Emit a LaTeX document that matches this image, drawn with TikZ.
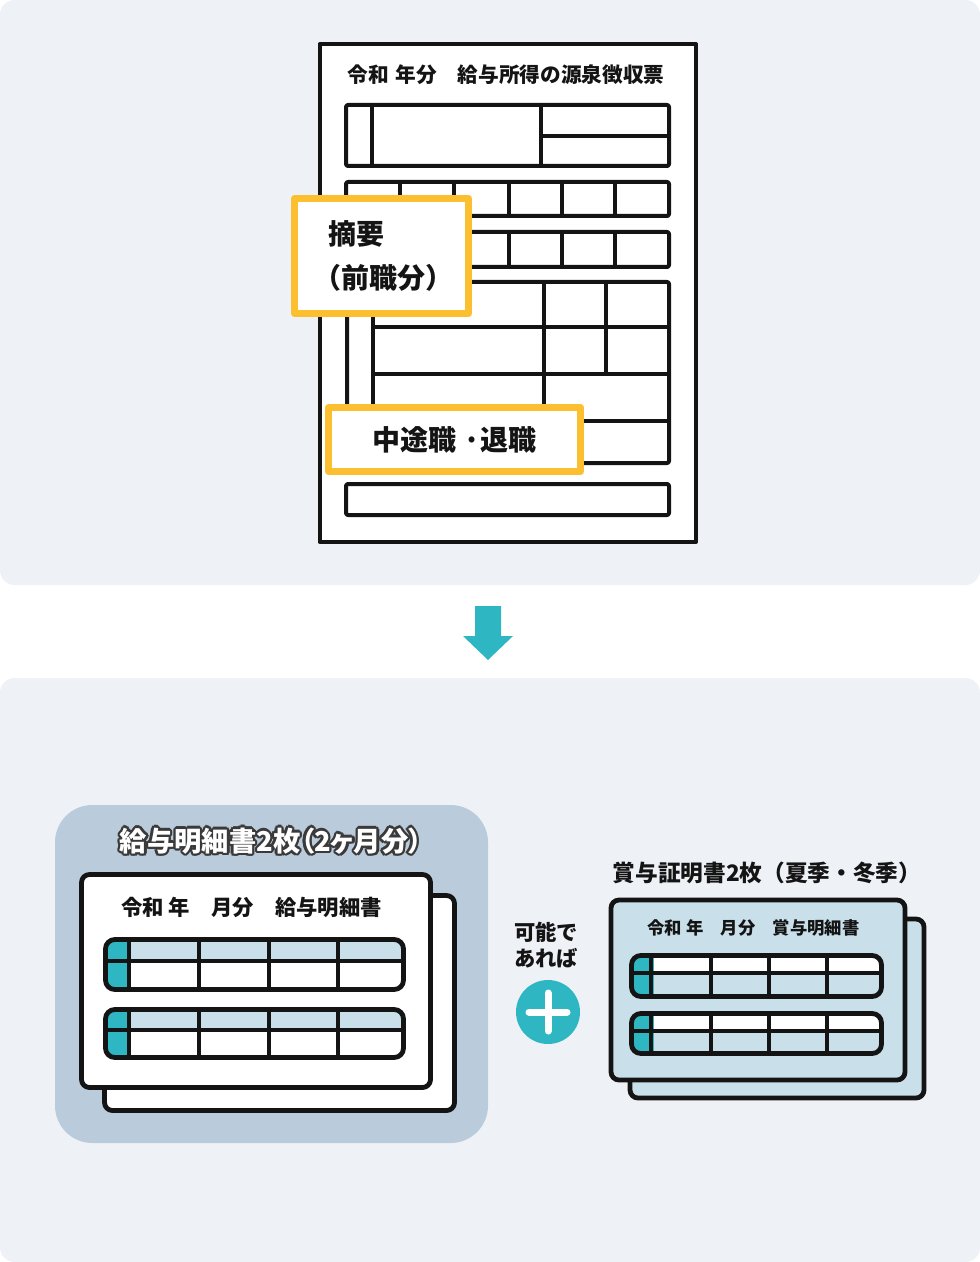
\documentclass[tikz,border=0pt]{standalone}
\usepackage{fontspec}
\newfontfamily\jp{Noto Sans CJK JP}[BoldFont={Noto Sans CJK JP Black}]
\newfontfamily\jpp{Noto Sans CJK JP}[BoldFont={Noto Sans CJK JP Black}, RawFeature=+palt]
\usetikzlibrary{arrows.meta,positioning,calc}
\definecolor{panelbg}{HTML}{EEF2F7}
\definecolor{tealc}{HTML}{2EB7C3}
\definecolor{paleblue}{HTML}{C9E0EA}
\definecolor{greyblue}{HTML}{BACBDB}
\definecolor{gold}{HTML}{FBBF2F}
\definecolor{ink}{HTML}{141414}
\definecolor{rim}{HTML}{3A3A3A}

\begin{document}
\begin{tikzpicture}[x=0.75pt, y=-0.75pt, line join=round,
    txt/.style={inner sep=0, text=ink, font=\jp\bfseries\fontsize{#1}{#1}\selectfont},
    form/.style={draw=ink, line width=3pt},
    hilite/.style={draw=gold, line width=5.25pt, fill=white},
    sheet/.style={draw=ink, line width=3.6pt, rounded corners=6pt},
    cell/.style={draw=ink, line width=3pt}]
    \useasboundingbox (0,0) rectangle (980,1262);
    \fill[panelbg, rounded corners=11pt] (0,0) rectangle (980,585);
    \fill[panelbg, rounded corners=11pt] (0,678) rectangle (980,1262);

    % withholding slip
    \draw[form, fill=white] (319.5,44) rectangle (696,542);
    \node[txt=15.5pt] (slipname) at (506,75) {令和\hspace{0.35em}年分　給与所得の源泉徴収票};
    \draw[form, rounded corners=1.5pt] (346,105) rectangle (669,166);
    \draw[form] (372,105) -- (372,166) (541,105) -- (541,166) (541,136) -- (669,136);
    \foreach \ya/\yb in {182/216, 232/267}{
        \draw[form, rounded corners=1.5pt] (346,\ya) rectangle (669,\yb);
        \foreach \x in {400,454,509,562,615} \draw[form] (\x,\ya) -- (\x,\yb);}
    \draw[form, rounded corners=1.5pt] (347,282) rectangle (669,463);
    \draw[form] (373,282) -- (373,463) (373,327) -- (669,327) (373,374) -- (669,374)
        (373,421) -- (669,421) (544,282) -- (544,421) (606,282) -- (606,374);
    \draw[form, rounded corners=1.5pt] (346,484) rectangle (669,515);

    \draw[hilite] (294.5,198.5) rectangle (468.5,313.5);
    \node[txt=21pt, anchor=west] (tekiyo) at (328,234) {摘要};
    \node[txt=21pt, anchor=west] (zenshoku) at (313,278) {（前職分）};
    \draw[hilite] (328.5,407.5) rectangle (580.5,471.5);
    \node[txt=21pt] (chuto) at (454.5,440) {中途職 ·退職};

    % arrow
    \coordinate (arr) at (488,606);
    \fill[tealc] (arr) ++(-13,0) -- ++(26,0) -- ++(0,30) -- ++(12,0) -- (488,660) -- (463,636) -- ++(12,0) -- cycle;

    % pay slips
    \fill[greyblue, rounded corners=28pt] (55,805) rectangle (488,1143);
    \foreach \a in {0,30,...,330}
        \node[txt=20pt, font=\jpp\bfseries\fontsize{20.5pt}{20.5pt}\selectfont, text=rim] (payrim\a) at ($(271,841)+(\a:2.4)$) {給与明細書2枚（2ヶ月分）};
    \node[txt=20pt, font=\jpp\bfseries\fontsize{20.5pt}{20.5pt}\selectfont, text=white] (paytitle) at (271,841) {給与明細書2枚（2ヶ月分）};
    \draw[sheet, fill=white] (104.5,895.5) rectangle (454.5,1110.5);
    \draw[sheet, fill=white] (81.5,874.5) rectangle (430.5,1087.5);
    \node[txt=16pt] (payhead) at (251.5,907) {令和 年　月分　給与明細書};

    % bonus slips
    \node[txt=17pt] (bonustitle) at (767,873) {賞与証明書2枚（夏季・冬季）};
    \draw[sheet, fill=paleblue] (630,919) rectangle (924,1098);
    \draw[sheet, fill=paleblue] (611,900) rectangle (905,1080);
    \node[txt=13pt] (bonushead) at (753.5,928) {令和 年　月分　賞与明細書};

    % tables
    \foreach \xa/\xb/\ya/\ym/\yb/\fc/\cols in {
        105.5/403.5/939.5/960.5/989.5/paleblue/{128.7,199,269,338},
        105.5/403.5/1009.5/1030/1057.5/paleblue/{128.7,199,269,338},
        631.5/881.5/955.5/972.7/996.5/white/{651,710.7,769,826.7},
        631.5/881.5/1013.5/1031/1053.5/white/{651,710.7,769,826.7}}{
        \begin{scope}
            \clip[rounded corners=7pt] (\xa,\ya) rectangle (\xb,\yb);
            \fill[\fc] (\xa,\ya) rectangle (\xb,\ym);
            \fill[tealc] (\xa,\ya) rectangle (\xa+22,\yb);
        \end{scope}
        \draw[cell] (\xa,\ym) -- (\xb,\ym);
        \foreach \x in \cols \draw[cell] (\x,\ya) -- (\x,\yb);
        \draw[cell, line width=3.6pt, rounded corners=7pt] (\xa,\ya) rectangle (\xb,\yb);}

    % plus
    \node[txt=16pt, align=center, font=\jp\bfseries\fontsize{16pt}{19pt}\selectfont] (ifable) at (546,945) {可能で\\あれば};
    \node[circle, fill=tealc, minimum size=48pt, inner sep=0] (plus) at (548,1012) {};
    \draw[white, line width=5.25pt, line cap=round] ($(plus)+(-19,0)$) -- ($(plus)+(19,0)$)
        ($(plus)+(0,-19)$) -- ($(plus)+(0,19)$);
\end{tikzpicture}
\end{document}
